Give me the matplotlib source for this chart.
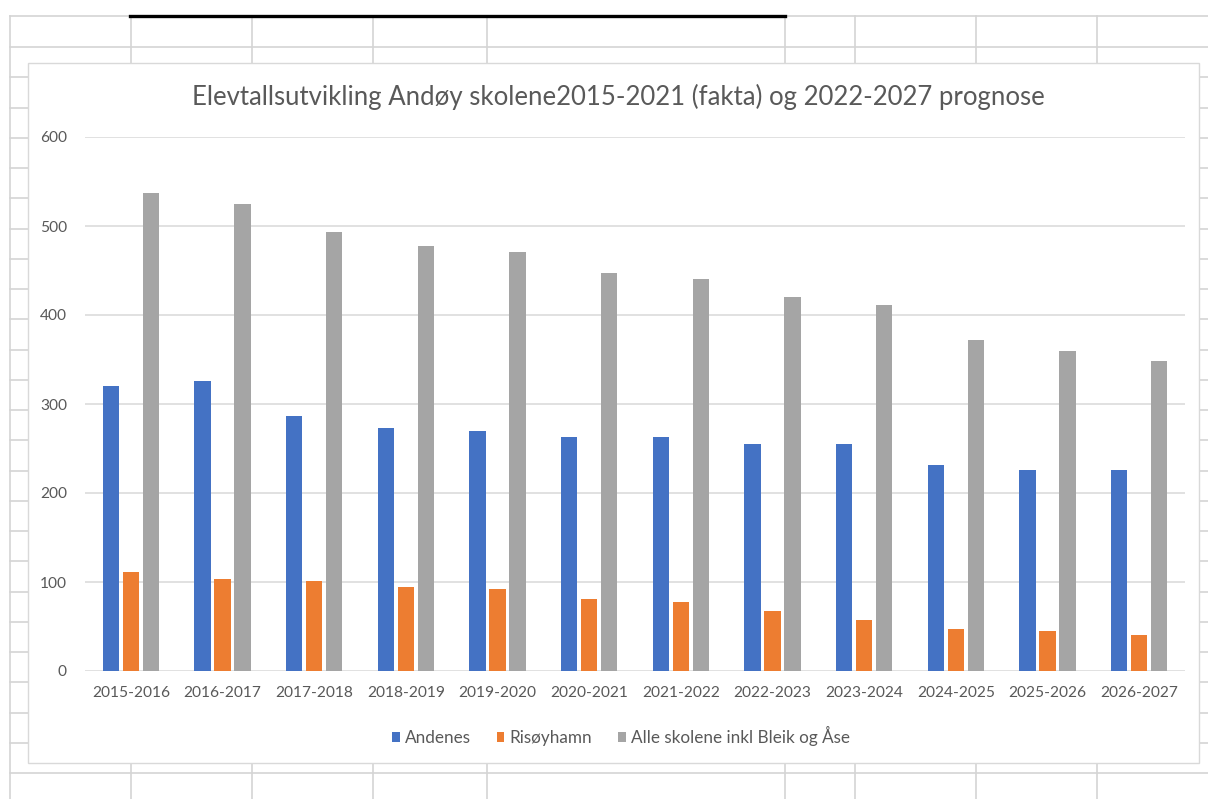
import matplotlib.pyplot as plt
import numpy as np
from matplotlib.lines import Line2D
from matplotlib.patches import Rectangle

# Data
years = ['2015-2016', '2016-2017', '2017-2018', '2018-2019', '2019-2020', '2020-2021',
         '2021-2022', '2022-2023', '2023-2024', '2024-2025', '2025-2026', '2026-2027']
andenes = [320, 326, 287, 273, 270, 263, 263, 255, 255, 231, 226, 226]
risoyhamn = [111, 103, 101, 94, 92, 81, 77, 67, 57, 47, 45, 41]
alle = [537, 525, 493, 477, 471, 447, 441, 420, 411, 372, 360, 348]

W, H = 1208, 799
plt.rcParams['font.family'] = ['Lato', 'DejaVu Sans']
txt = '#595959'

fig = plt.figure(figsize=(W / 100, H / 100), dpi=100)


def fx(x):
    return x / W


def fy(y):
    return 1 - y / H


# spreadsheet cells behind the chart
cell = '#d4d4d4'
rows = [16] + list(np.linspace(47, 773, 25))
cols = [10, 131, 252, 373, 487, 785, 855, 976, 1097]
for y in rows:
    fig.add_artist(Line2D([fx(10), 1], [fy(y), fy(y)], color=cell, lw=1.2))
for x in cols:
    fig.add_artist(Line2D([fx(x), fx(x)], [fy(16), 0], color=cell, lw=1.2))
fig.add_artist(Line2D([fx(130), fx(785)], [fy(16), fy(16)], color='black', lw=2.4))

# chart area
fig.add_artist(Rectangle((fx(28), fy(763)), fx(1199) - fx(28), fy(63) - fy(763),
                         facecolor='white', edgecolor='#d9d9d9', lw=1.0, zorder=3))

ax = fig.add_axes([fx(85), fy(671), fx(1185) - fx(85), fy(137) - fy(671)])
ax.set_zorder(5)
ax.patch.set_visible(False)

x = np.arange(len(years))
w = 0.18
step = 0.218
ax.bar(x - step, andenes, w, color='#4472C4', label='Andenes')
ax.bar(x, risoyhamn, w, color='#ED7D31', label='Risøyhamn')
ax.bar(x + step, alle, w, color='#A5A5A5', label='Alle skolene inkl Bleik og Åse')

ax.set_xlim(-0.5, len(years) - 0.5)
ax.set_ylim(0, 600)
ax.set_yticks(range(0, 601, 100))
ax.set_xticks(x)
ax.set_xticklabels(years)
ax.yaxis.grid(True, color='#d9d9d9', lw=1.1)
ax.set_axisbelow(True)
for s in ax.spines.values():
    s.set_visible(False)
ax.tick_params(axis='both', length=0, labelsize=11.2, labelcolor=txt)
ax.tick_params(axis='y', pad=13)
ax.tick_params(axis='x', pad=11)

fig.text(fx(618), fy(97), 'Elevtallsutvikling Andøy skolene2015-2021 (fakta) og 2022-2027 prognose',
         ha='center', va='center', fontsize=18.5, color=txt, zorder=6)

leg = fig.legend(loc='center', bbox_to_anchor=(fx(621), fy(736)), ncol=3, frameon=False,
                 fontsize=12.3, handlelength=0.45, handleheight=0.45, handletextpad=0.3,
                 columnspacing=1.5, labelcolor=txt)
leg.set_zorder(6)

fig.savefig('out.png', dpi=100)
